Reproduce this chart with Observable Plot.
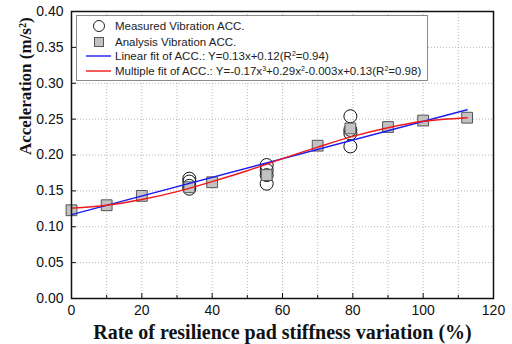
<!DOCTYPE html>
<html>
<head>
<meta charset="utf-8">
<script src="https://cdn.jsdelivr.net/npm/d3@7"></script>
<script src="https://cdn.jsdelivr.net/npm/@observablehq/plot@0.6"></script>
<style>
  html, body { margin: 0; padding: 0; background: #fff; }
  #wrap { position: relative; width: 512px; height: 344px; overflow: hidden; }
  #legend { position: absolute; left: 76px; top: 15px; width: 352px; height: 66px;
    border: 1px solid #8a8a8a; background: #fff; box-sizing: border-box;
    font-family: "Liberation Sans", Arial, sans-serif; font-size: 11.5px; color: #222; }
  .row { position: absolute; left: 0; height: 14px; line-height: 14px; white-space: nowrap; }
  .row svg { position: absolute; left: 8px; top: -3px; }
  .row span { position: absolute; left: 38px; top: 0; }
  sup { font-size: 7px; vertical-align: 4px; line-height: 0; }
</style>
</head>
<body>
<div id="wrap"></div>
<script>
// ---- data ----
const xTicks = [0, 20, 40, 60, 80, 100, 120];
const xMinorTicks = [10, 30, 50, 70, 90, 110];
const xGrid = [0, 10, 20, 30, 40, 50, 60, 70, 80, 90, 100, 110, 120];
const yTicks = [0, 0.05, 0.10, 0.15, 0.20, 0.25, 0.30, 0.35, 0.40];

// Measured vibration acceleration (circles)
const measuredX = [33.5, 33.5, 33.5, 33.5, 55.5, 55.5, 55.5, 55.5, 79.3, 79.3, 79.3, 79.3];
const measuredY = [0.167, 0.163, 0.157, 0.153, 0.186, 0.179, 0.172, 0.160, 0.254, 0.235, 0.230, 0.212];

// Analysis vibration acceleration (squares)
const analysisX = [0, 10, 20, 33.5, 40, 55.5, 70, 79.3, 90, 100, 112.5];
const analysisY = [0.123, 0.130, 0.143, 0.155, 0.162, 0.172, 0.213, 0.237, 0.239, 0.248, 0.252];

// Linear fit (blue)
const linearX = [0, 112.5];
const linearY = [0.117, 0.263];

// Multiple (cubic) fit (red)
const multiX = [0, 10, 20, 30, 40, 50, 60, 70, 80, 90, 100, 112.5];
const multiY = [0.126, 0.130, 0.138, 0.149, 0.163, 0.178, 0.195, 0.211, 0.226, 0.238, 0.247, 0.252];

const xLabel = "Rate of resilience pad stiffness variation (%)";
const yLabel = "Acceleration (m/s²)";

// ---- tables ----
const measured = measuredX.map((x, i) => ({x, y: measuredY[i]}));
const analysis = analysisX.map((x, i) => ({x, y: analysisY[i]}));
const linear = linearX.map((x, i) => ({x, y: linearY[i]}));
const multi = multiX.map((x, i) => ({x, y: multiY[i]}));

const sans = "Liberation Sans, Arial, sans-serif";
const serif = "Liberation Serif, Times New Roman, serif";

const chart = Plot.plot({
  width: 512,
  height: 344,
  marginLeft: 71,
  marginRight: 19,
  marginTop: 11,
  marginBottom: 46,
  style: {background: "#fff", overflow: "visible"},
  x: {domain: [0, 120]},
  y: {domain: [0, 0.4]},
  marks: [
    Plot.gridX(xGrid, {stroke: "#a0a0a0", strokeOpacity: 0.75, strokeDasharray: "1,2"}),
    Plot.gridY(yTicks, {stroke: "#a0a0a0", strokeOpacity: 0.75, strokeDasharray: "1,2"}),
    // tick labels
    Plot.axisX(xTicks, {tickSize: 0, tickPadding: 7, fontSize: 14, fontFamily: sans, fill: "#111", label: null}),
    Plot.axisY(yTicks, {tickSize: 0, tickPadding: 8, fontSize: 14, fontFamily: sans, fill: "#111", label: null, tickFormat: d3.format(".2f")}),
    // inward ticks
    Plot.axisX(xTicks, {tickSize: 5, dy: -5, tickFormat: () => "", label: null, stroke: "#111"}),
    Plot.axisX(xMinorTicks, {tickSize: 3, dy: -3, tickFormat: () => "", label: null, stroke: "#111"}),
    Plot.axisY(yTicks, {tickSize: 5, dx: 5, tickFormat: () => "", label: null, stroke: "#111"}),
    // axis titles
    Plot.text([xLabel], {frameAnchor: "bottom", dy: 40, text: d => d, fontFamily: serif, fontWeight: "bold", fontSize: 20, fill: "#111", lineAnchor: "bottom"}),
    Plot.text([yLabel], {frameAnchor: "left", dx: -46, rotate: -90, text: d => d, fontFamily: serif, fontWeight: "bold", fontSize: 17, fill: "#111"}),
    // data
    Plot.dot(measured, {x: "x", y: "y", r: 6.5, stroke: "#111", strokeWidth: 1, fill: "none"}),
    Plot.dot(analysis, {x: "x", y: "y", r: 6.1, symbol: "square", fill: "#c2c2c2", stroke: "#555", strokeWidth: 1}),
    Plot.line(linear, {x: "x", y: "y", stroke: "#1c1cf0", strokeWidth: 1.4}),
    Plot.line(multi, {x: "x", y: "y", stroke: "#f01818", strokeWidth: 1.4, curve: "catmull-rom"}),
    Plot.frame({stroke: "#111", strokeWidth: 1.5})
  ]
});

const wrap = document.getElementById("wrap");
wrap.appendChild(chart);

const legend = document.createElement("div");
legend.id = "legend";
legend.innerHTML = `
  <div class="row" style="top:3px">
    <svg width="30" height="20"><circle cx="14" cy="10" r="5.5" fill="none" stroke="#222" stroke-width="1"/></svg>
    <span>Measured Vibration ACC.</span></div>
  <div class="row" style="top:19px">
    <svg width="30" height="20"><rect x="9.5" y="5.5" width="9" height="9" fill="#c2c2c2" stroke="#555" stroke-width="1"/></svg>
    <span>Analysis Vibration ACC.</span></div>
  <div class="row" style="top:33px">
    <svg width="30" height="20"><line x1="1" x2="26" y1="10" y2="10" stroke="#1c1cf0" stroke-width="1.4"/></svg>
    <span>Linear fit of ACC.: Y=0.13x+0.12(R<sup>2</sup>=0.94)</span></div>
  <div class="row" style="top:48px">
    <svg width="30" height="20"><line x1="1" x2="26" y1="10" y2="10" stroke="#f01818" stroke-width="1.4"/></svg>
    <span>Multiple fit of ACC.: Y=-0.17x<sup>3</sup>+0.29x<sup>2</sup>-0.003x+0.13(R<sup>2</sup>=0.98)</span></div>
`;
wrap.appendChild(legend);
</script>
</body>
</html>
